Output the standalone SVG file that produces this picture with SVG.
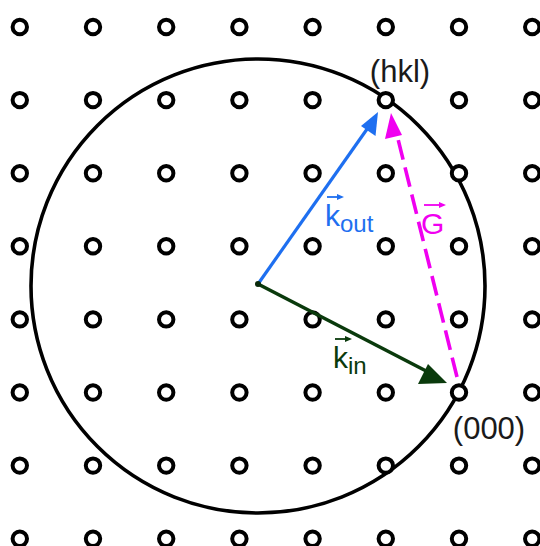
<svg xmlns="http://www.w3.org/2000/svg" xmlns:xlink="http://www.w3.org/1999/xlink" width="540" height="546" viewBox="0 0 540 546">
<style>
.pt{fill:#fff;stroke:#000;stroke-width:4}
.lbl{font-family:"Liberation Sans",Arial,sans-serif;font-size:31px;fill:#1a1a1a}
.vec{font-family:"Liberation Sans",Arial,sans-serif;font-size:30px}
.sub{font-size:24px}
</style>
<defs>
<circle id="p" r="7.2" class="pt"/>
</defs>
<rect width="540" height="546" fill="#fff"/>
<g id="ewald-sphere">
<circle cx="258" cy="286" r="227" fill="none" stroke="#000" stroke-width="3.6"/>
</g>
<g id="lattice">
<use href="#p" x="19.8" y="27"/><use href="#p" x="93" y="27"/><use href="#p" x="166.2" y="27"/><use href="#p" x="239.4" y="27"/><use href="#p" x="312.6" y="27"/><use href="#p" x="385.8" y="27"/><use href="#p" x="459" y="27"/><use href="#p" x="532.2" y="27"/>
<use href="#p" x="19.8" y="100.1"/><use href="#p" x="93" y="100.1"/><use href="#p" x="166.2" y="100.1"/><use href="#p" x="239.4" y="100.1"/><use href="#p" x="312.6" y="100.1"/><use href="#p" x="459" y="100.1"/><use href="#p" x="532.2" y="100.1"/>
<use href="#p" x="19.8" y="173.2"/><use href="#p" x="93" y="173.2"/><use href="#p" x="166.2" y="173.2"/><use href="#p" x="239.4" y="173.2"/><use href="#p" x="312.6" y="173.2"/><use href="#p" x="385.8" y="173.2"/><use href="#p" x="459" y="173.2"/><use href="#p" x="532.2" y="173.2"/>
<use href="#p" x="19.8" y="246.3"/><use href="#p" x="93" y="246.3"/><use href="#p" x="166.2" y="246.3"/><use href="#p" x="239.4" y="246.3"/><use href="#p" x="312.6" y="246.3"/><use href="#p" x="385.8" y="246.3"/><use href="#p" x="459" y="246.3"/><use href="#p" x="532.2" y="246.3"/>
<use href="#p" x="19.8" y="319.4"/><use href="#p" x="93" y="319.4"/><use href="#p" x="166.2" y="319.4"/><use href="#p" x="239.4" y="319.4"/><use href="#p" x="312.6" y="319.4"/><use href="#p" x="385.8" y="319.4"/><use href="#p" x="459" y="319.4"/><use href="#p" x="532.2" y="319.4"/>
<use href="#p" x="19.8" y="392.5"/><use href="#p" x="93" y="392.5"/><use href="#p" x="166.2" y="392.5"/><use href="#p" x="239.4" y="392.5"/><use href="#p" x="312.6" y="392.5"/><use href="#p" x="385.8" y="392.5"/><use href="#p" x="532.2" y="392.5"/>
<use href="#p" x="19.8" y="465.6"/><use href="#p" x="93" y="465.6"/><use href="#p" x="166.2" y="465.6"/><use href="#p" x="239.4" y="465.6"/><use href="#p" x="312.6" y="465.6"/><use href="#p" x="385.8" y="465.6"/><use href="#p" x="459" y="465.6"/><use href="#p" x="532.2" y="465.6"/>
<use href="#p" x="19.8" y="538.7"/><use href="#p" x="93" y="538.7"/><use href="#p" x="166.2" y="538.7"/><use href="#p" x="239.4" y="538.7"/><use href="#p" x="312.6" y="538.7"/><use href="#p" x="385.8" y="538.7"/><use href="#p" x="459" y="538.7"/><use href="#p" x="532.2" y="538.7"/>
</g>
<g id="hkl">
<use href="#p" x="385.8" y="100.1"/>
<text class="lbl" x="400" y="82" text-anchor="middle">(hkl)</text>
</g>
<g id="origin000">
<use href="#p" x="459" y="392.5"/>
<text class="lbl" x="489" y="439" text-anchor="middle">(000)</text>
</g>
<g id="connectors">
<line x1="258" y1="284" x2="372" y2="122" stroke="#1e6ff0" stroke-width="3.2"/>
<polygon points="378,112 375.5,136 361,126" fill="#1e6ff0"/>
<line x1="258" y1="284" x2="430" y2="373" stroke="#0a3a0c" stroke-width="3.6"/>
<polygon points="447,383 418,384 428,364" fill="#0a3a0c"/>
<line x1="457" y1="377" x2="397" y2="135" stroke="#f000f0" stroke-width="3.6" stroke-dasharray="20,8"/>
<polygon points="391,113 385,139 402,135" fill="#f000f0"/>
<circle cx="258" cy="284" r="3" fill="#0a2a0a"/>
</g>
<g id="label-kout" fill="#1e6ff0">
<text class="vec" x="325" y="226">k<tspan class="sub" dy="6">out</tspan></text>
<line x1="327" y1="197" x2="339" y2="197" stroke="#1e6ff0" stroke-width="1.8"/>
<polygon points="344,197 337,194 337,200"/>
</g>
<g id="label-G" fill="#f000f0">
<text class="vec" x="421" y="234">G</text>
<line x1="424" y1="205" x2="441" y2="205" stroke="#f000f0" stroke-width="1.8"/>
<polygon points="446,205 439,202 439,208"/>
</g>
<g id="label-kin" fill="#0a3a0c">
<text class="vec" x="333" y="368">k<tspan class="sub" dy="6">in</tspan></text>
<line x1="335" y1="339" x2="347" y2="339" stroke="#0a3a0c" stroke-width="1.8"/>
<polygon points="352,339 345,336 345,342"/>
</g>
</svg>
